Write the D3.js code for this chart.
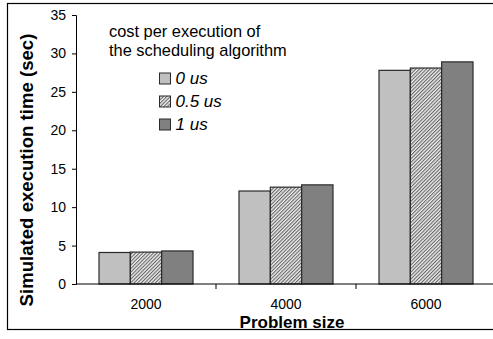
<!DOCTYPE html>
<html>
<head>
<meta charset="utf-8">
<script src="https://cdn.jsdelivr.net/npm/d3@7"></script>
<style>
  body { margin: 0; background: #fff; }
  text { font-family: "Liberation Sans", Arial, sans-serif; fill: #000; }
</style>
</head>
<body>
<div id="chart"></div>
<script>
// data
const problemSizes = ["2000", "4000", "6000"];
const costLabels = ["0 us", "0.5 us", "1 us"];
const cost0 = [4.1, 12.1, 27.8];
const cost05 = [4.15, 12.6, 28.1];
const cost1 = [4.3, 12.9, 28.9];
const yTicks = [0, 5, 10, 15, 20, 25, 30, 35];

const seriesValues = [cost0, cost05, cost1];

const W = 493, H = 339;
const margin = {top: 15, left: 76};
const plotW = 420;
const height = 269;

const svg = d3.select("#chart").append("svg")
    .attr("width", W)
    .attr("height", H);

// hatch pattern for the 0.5 us series
const defs = svg.append("defs");
const pat = defs.append("pattern")
    .attr("id", "hatch")
    .attr("patternUnits", "userSpaceOnUse")
    .attr("width", 2.5)
    .attr("height", 2.5)
    .attr("patternTransform", "rotate(45)");
pat.append("rect").attr("width", 2.5).attr("height", 2.5).attr("fill", "#eeeeee");
pat.append("rect").attr("width", 1.1).attr("height", 2.5).attr("fill", "#666");

const fills = ["#c0c0c0", "url(#hatch)", "#808080"];

// outer frame
svg.append("rect")
    .attr("x", 7.5).attr("y", 3.5)
    .attr("width", W + 10).attr("height", 326)
    .attr("fill", "none")
    .attr("stroke", "#000")
    .attr("stroke-width", 1.2);

const g = svg.append("g")
    .attr("transform", "translate(" + margin.left + "," + margin.top + ")");

const x0 = d3.scaleBand()
    .domain(problemSizes)
    .range([0, plotW]);

const x1 = d3.scaleBand()
    .domain(costLabels)
    .range([x0.bandwidth() / 2 - 47, x0.bandwidth() / 2 + 47]);

const y = d3.scaleLinear()
    .domain([0, 35])
    .range([height, 0]);

// bars
const groups = g.selectAll(".group")
    .data(problemSizes)
    .enter().append("g")
    .attr("class", "group")
    .attr("transform", function(d) { return "translate(" + x0(d) + ",0)"; });

groups.selectAll("rect")
    .data(function(d, i) {
        return costLabels.map(function(c, j) { return {cost: c, idx: j, value: seriesValues[j][i]}; });
    })
    .enter().append("rect")
    .attr("x", function(d) { return x1(d.cost); })
    .attr("y", function(d) { return y(d.value); })
    .attr("width", x1.bandwidth())
    .attr("height", function(d) { return height - y(d.value); })
    .attr("fill", function(d) { return fills[d.idx]; })
    .attr("stroke", "#2a2a2a")
    .attr("stroke-width", 1.2);

// y axis
const yAxis = g.append("g")
    .call(d3.axisLeft(y).tickValues(yTicks).tickSize(4).tickSizeOuter(4).tickPadding(6));
yAxis.select(".domain").attr("stroke", "#000");
yAxis.selectAll(".tick line").attr("stroke", "#000");
yAxis.selectAll("text")
    .attr("font-size", "14px");

// x axis: line, separating ticks, labels
g.append("line")
    .attr("x1", 0).attr("x2", plotW)
    .attr("y1", height).attr("y2", height)
    .attr("stroke", "#000");

g.selectAll(".sep")
    .data(problemSizes.slice(1))
    .enter().append("line")
    .attr("x1", function(d) { return x0(d); })
    .attr("x2", function(d) { return x0(d); })
    .attr("y1", height).attr("y2", height + 5)
    .attr("stroke", "#000");

g.selectAll(".xlab")
    .data(problemSizes)
    .enter().append("text")
    .attr("x", function(d) { return x0(d) + x0.bandwidth() / 2; })
    .attr("y", height + 25)
    .attr("text-anchor", "middle")
    .attr("font-size", "14px")
    .text(function(d) { return d; });

g.append("text")
    .attr("x", 216)
    .attr("y", height + 44)
    .attr("text-anchor", "middle")
    .attr("font-size", "17px")
    .attr("font-weight", "bold")
    .text("Problem size");

svg.append("text")
    .attr("transform", "translate(33,170) rotate(-90)")
    .attr("text-anchor", "middle")
    .attr("font-size", "18.6px")
    .attr("font-weight", "bold")
    .text("Simulated execution time (sec)");

// legend
svg.append("text")
    .attr("x", 109).attr("y", 37)
    .attr("font-size", "16.4px")
    .text("cost per execution of");
svg.append("text")
    .attr("x", 109).attr("y", 56)
    .attr("font-size", "16.4px")
    .text("the scheduling algorithm");

const leg = svg.selectAll(".leg")
    .data(costLabels)
    .enter().append("g")
    .attr("class", "leg")
    .attr("transform", function(d, i) { return "translate(159.5," + (73 + i * 23) + ")"; });

leg.append("rect")
    .attr("width", 11).attr("height", 11)
    .attr("fill", function(d, i) { return fills[i]; })
    .attr("stroke", "#2a2a2a");

leg.append("text")
    .attr("x", 16).attr("y", 10.5)
    .attr("font-size", "17px")
    .attr("font-style", "italic")
    .text(function(d) { return d; });
</script>
</body>
</html>
